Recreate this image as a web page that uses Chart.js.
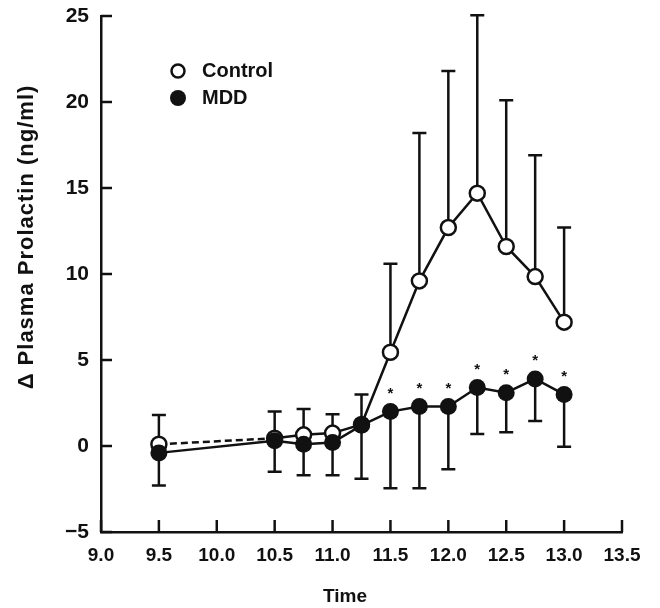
<!DOCTYPE html>
<html>
<head>
<meta charset="utf-8">
<script src="https://cdn.jsdelivr.net/npm/chart.js@4/dist/chart.umd.min.js"></script>
<style>
  body { margin: 0; background: #fff; }
  #wrap { width: 660px; height: 608px; position: relative; }
</style>
</head>
<body>
<div id="wrap"><canvas id="chart"></canvas></div>
<script>
// sampling times (h)
const times = [9.5, 10.5, 10.75, 11.0, 11.25, 11.5, 11.75, 12.0, 12.25, 12.5, 12.75, 13.0];
// delta plasma prolactin, ng/ml
const control = [0.1, 0.45, 0.65, 0.75, 1.25, 5.45, 9.6, 12.7, 14.7, 11.6, 9.85, 7.2];
const controlUpper = [1.8, 2.0, 2.15, 1.85, 3.0, 10.6, 18.2, 21.8, 25.05, 20.1, 16.9, 12.7];
const mdd = [-0.4, 0.3, 0.1, 0.2, 1.2, 2.0, 2.3, 2.3, 3.4, 3.1, 3.9, 3.0];
const mddLower = [-2.3, -1.5, -1.7, -1.7, -1.9, -2.45, -2.45, -1.35, 0.7, 0.8, 1.45, -0.05];
const significant = [false, false, false, false, false, true, true, true, true, true, true, true];

const seriesNames = ['Control', 'MDD'];
const xTitle = 'Time';
const yTitle = 'Δ Plasma Prolactin (ng/ml)';

const ink = '#111';
const fontFam = "'Liberation Sans', Arial, sans-serif";

const extras = {
  id: 'extras',
  beforeDatasetsDraw(chart) {
    const { ctx, scales: { x, y } } = chart;
    ctx.save();
    ctx.strokeStyle = ink;
    ctx.lineWidth = 2.5;
    const bar = (t, from, to) => {
      const px = x.getPixelForValue(t);
      const y0 = y.getPixelForValue(from);
      const y1 = y.getPixelForValue(to);
      ctx.beginPath();
      ctx.moveTo(px, y0);
      ctx.lineTo(px, y1);
      ctx.moveTo(px - 7, y1);
      ctx.lineTo(px + 7, y1);
      ctx.stroke();
    };
    times.forEach((t, i) => {
      bar(t, control[i], controlUpper[i]);
      bar(t, mdd[i], mddLower[i]);
    });
    ctx.restore();
  },
  afterDraw(chart) {
    const { ctx, chartArea, scales: { x, y } } = chart;
    ctx.save();
    ctx.strokeStyle = ink;
    ctx.fillStyle = ink;
    ctx.lineWidth = 2.5;

    // inward tick marks
    y.ticks.forEach(tk => {
      const py = y.getPixelForValue(tk.value);
      ctx.beginPath();
      ctx.moveTo(chartArea.left, py);
      ctx.lineTo(chartArea.left + 11, py);
      ctx.stroke();
    });
    x.ticks.forEach(tk => {
      const px = x.getPixelForValue(tk.value);
      ctx.beginPath();
      ctx.moveTo(px, chartArea.bottom);
      ctx.lineTo(px, chartArea.bottom - 12);
      ctx.stroke();
    });

    // asterisks above MDD points
    ctx.font = 'bold 15px ' + fontFam;
    ctx.textAlign = 'center';
    ctx.textBaseline = 'middle';
    times.forEach((t, i) => {
      if (!significant[i]) return;
      ctx.fillText('*', x.getPixelForValue(t), y.getPixelForValue(mdd[i]) - 18);
    });

    // legend
    const lx = chartArea.left + 77, ly = chartArea.top + 55;
    ctx.lineWidth = 2.5;
    ctx.beginPath();
    ctx.arc(lx, ly, 6.5, 0, Math.PI * 2);
    ctx.fillStyle = '#fff';
    ctx.fill();
    ctx.stroke();
    ctx.beginPath();
    ctx.arc(lx, ly + 27, 8, 0, Math.PI * 2);
    ctx.fillStyle = ink;
    ctx.fill();
    ctx.font = 'bold 20px ' + fontFam;
    ctx.textAlign = 'left';
    ctx.fillText(seriesNames[0], lx + 24, ly);
    ctx.fillText(seriesNames[1], lx + 24, ly + 27);

    // axis titles
    ctx.font = 'bold 19px ' + fontFam;
    ctx.textAlign = 'center';
    ctx.fillText(xTitle, 345, 597);
    ctx.translate(27, 237);
    ctx.rotate(-Math.PI / 2);
    ctx.font = 'bold 22px ' + fontFam;
    ctx.letterSpacing = '1px';
    ctx.fillText(yTitle, 0, 0);
    ctx.restore();
  }
};

const config = {
  type: 'line',
  data: {
    datasets: [
      {
        label: seriesNames[1],
        data: times.map((t, i) => ({ x: t, y: mdd[i] })),
        borderColor: ink,
        borderWidth: 2.5,
        pointRadius: 8.5,
        pointBackgroundColor: ink,
        pointBorderWidth: 0,
        order: 0
      },
      {
        label: seriesNames[0],
        data: times.map((t, i) => ({ x: t, y: control[i] })),
        borderColor: ink,
        borderWidth: 2.5,
        pointRadius: 7.5,
        pointBackgroundColor: '#fff',
        pointBorderColor: ink,
        pointBorderWidth: 2.5,
        segment: {
          borderDash: c => c.p0DataIndex === 0 ? [7, 4] : undefined
        },
        order: 1
      }
    ]
  },
  options: {
    responsive: true,
    maintainAspectRatio: false,
    animation: false,
    layout: { padding: { left: 0, right: 38, top: 16, bottom: 0 } },
    plugins: {
      legend: { display: false },
      tooltip: { enabled: false }
    },
    scales: {
      x: {
        type: 'linear',
        min: 9,
        max: 13.5,
        afterFit: s => { s.height = 76; s.paddingLeft = 0; s.paddingRight = 0; },
        ticks: {
          stepSize: 0.5,
          color: ink,
          padding: 12,
          maxRotation: 0,
          font: { family: fontFam, size: 19, weight: 'bold' },
          callback: v => v.toFixed(1)
        },
        grid: { display: false, drawTicks: false },
        border: { color: ink, width: 2.5 }
      },
      y: {
        min: -5,
        max: 25,
        afterFit: s => { s.width = 101; s.paddingTop = 0; s.paddingBottom = 0; },
        ticks: {
          stepSize: 5,
          color: ink,
          padding: 12,
          font: { family: fontFam, size: 21, weight: 'bold' },
          callback: v => String(v).replace('-', '\u2212')
        },
        grid: { display: false, drawTicks: false },
        border: { color: ink, width: 2.5 }
      }
    }
  },
  plugins: [extras]
};

new Chart(document.getElementById('chart').getContext('2d'), config);
</script>
</body>
</html>
